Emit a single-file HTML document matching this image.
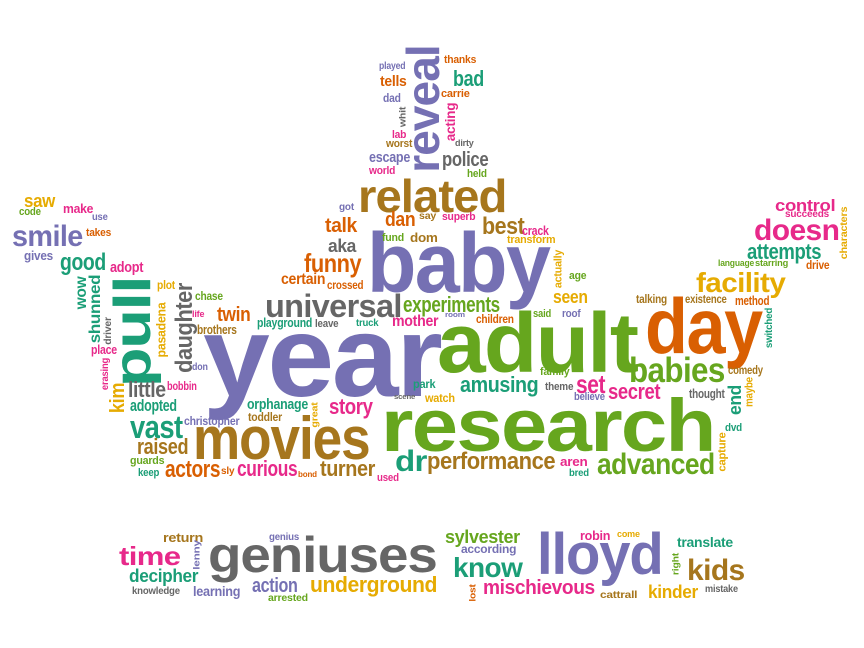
<!DOCTYPE html>
<html><head><meta charset="utf-8">
<style>
html,body{margin:0;padding:0;background:#fff;}
#cloud{position:relative;width:864px;height:648px;overflow:hidden;background:#fff;}
#cloud span{position:absolute;white-space:nowrap;font-family:"Liberation Sans",sans-serif;font-weight:bold;line-height:1;letter-spacing:-0.02em;}
</style></head>
<body>
<div id="cloud">
<span data-g="h,203,397,115,237,P">year</span>
<span data-g="h,437,372,84,200,G">adult</span>
<span data-g="h,645,353,78,117,O">day</span>
<span data-g="h,381,452,74,334,G">research</span>
<span data-g="h,367,292,84,182,P">baby</span>
<span data-g="h,193,460,60,177,B">movies</span>
<span data-g="h,358,212,46,148,B">related</span>
<span data-g="h,208,572,50,229,A">geniuses</span>
<span data-g="h,537,575,58,126,P">lloyd</span>
<span data-g="v,133,332,52,110,T">pull</span>
<span data-g="v,423,109,46,128,P">reveal</span>
<span data-g="h,629,383,35,96,G">babies</span>
<span data-g="h,265,317,32,137,A">universal</span>
<span data-g="h,403,313,22,97,G">experiments</span>
<span data-g="h,12,247,30,71,P">smile</span>
<span data-g="h,24,207,18,31,Y">saw</span>
<span data-g="h,19,216,11,22,G">code</span>
<span data-g="h,63,213,13,30,K">make</span>
<span data-g="h,92,221,10,16,P">use</span>
<span data-g="h,86,237,11,25,O">takes</span>
<span data-g="h,24,260,13,29,P">gives</span>
<span data-g="h,60,271,24,46,T">good</span>
<span data-g="h,110,273,15,33,K">adopt</span>
<span data-g="h,157,289,12,18,Y">plot</span>
<span data-g="h,195,300,12,28,G">chase</span>
<span data-g="h,217,322,20,33,O">twin</span>
<span data-g="h,192,318,9,12,K">life</span>
<span data-g="h,197,334,13,40,B">brothers</span>
<span data-g="h,91,354,13,26,K">place</span>
<span data-g="h,192,371,10,16,P">don</span>
<span data-g="h,167,390,12,30,K">bobbin</span>
<span data-g="h,128,398,22,38,A">little</span>
<span data-g="h,130,411,17,47,T">adopted</span>
<span data-g="h,247,410,15,61,T">orphanage</span>
<span data-g="h,248,421,12,34,B">toddler</span>
<span data-g="h,184,425,12,55,P">christopher</span>
<span data-g="h,329,415,22,44,K">story</span>
<span data-g="h,130,438,32,53,T">vast</span>
<span data-g="h,137,455,22,51,B">raised</span>
<span data-g="h,130,465,11,34,G">guards</span>
<span data-g="h,138,477,11,21,T">keep</span>
<span data-g="h,165,478,24,55,O">actors</span>
<span data-g="h,221,475,10,13,O">sly</span>
<span data-g="h,237,477,22,60,K">curious</span>
<span data-g="h,298,478,8,19,O">bond</span>
<span data-g="h,320,477,22,55,B">turner</span>
<span data-g="h,377,482,11,22,K">used</span>
<span data-g="h,395,472,30,32,T">dr</span>
<span data-g="h,339,211,10,15,P">got</span>
<span data-g="h,325,233,20,32,O">talk</span>
<span data-g="h,385,227,20,30,O">dan</span>
<span data-g="h,419,220,10,17,B">say</span>
<span data-g="h,382,242,11,22,G">fund</span>
<span data-g="h,410,242,13,28,B">dom</span>
<span data-g="h,328,252,18,28,A">aka</span>
<span data-g="h,304,272,26,57,O">funny</span>
<span data-g="h,281,286,16,44,O">certain</span>
<span data-g="h,327,289,12,36,O">crossed</span>
<span data-g="h,257,327,13,55,T">playground</span>
<span data-g="h,315,328,11,23,A">leave</span>
<span data-g="h,356,327,10,22,T">truck</span>
<span data-g="h,392,328,16,46,K">mother</span>
<span data-g="h,413,388,12,22,T">park</span>
<span data-g="h,394,400,7,21,A">scene</span>
<span data-g="h,425,402,12,30,Y">watch</span>
<span data-g="h,442,221,11,33,K">superb</span>
<span data-g="h,482,235,24,42,B">best</span>
<span data-g="h,522,235,13,27,K">crack</span>
<span data-g="h,507,244,11,48,Y">transform</span>
<span data-g="h,569,280,11,17,G">age</span>
<span data-g="h,553,303,18,35,Y">seen</span>
<span data-g="h,445,318,7,20,P">room</span>
<span data-g="h,476,323,12,38,O">children</span>
<span data-g="h,533,318,11,18,G">said</span>
<span data-g="h,562,318,11,19,P">roof</span>
<span data-g="h,636,303,12,31,B">talking</span>
<span data-g="h,685,303,12,42,B">existence</span>
<span data-g="h,735,305,13,34,O">method</span>
<span data-g="h,696,293,28,89,Y">facility</span>
<span data-g="h,775,211,17,60,K">control</span>
<span data-g="h,785,218,10,44,K">succeeds</span>
<span data-g="h,754,241,30,85,K">doesn</span>
<span data-g="h,747,260,22,74,T">attempts</span>
<span data-g="h,718,267,9,36,G">language</span>
<span data-g="h,755,267,9,33,G">starring</span>
<span data-g="h,806,269,12,23,O">drive</span>
<span data-g="h,540,376,11,29,G">family</span>
<span data-g="h,460,393,22,78,T">amusing</span>
<span data-g="h,545,391,11,28,A">theme</span>
<span data-g="h,576,393,26,29,K">set</span>
<span data-g="h,574,401,11,31,P">believe</span>
<span data-g="h,608,400,22,52,K">secret</span>
<span data-g="h,728,374,12,35,B">comedy</span>
<span data-g="h,689,398,13,36,A">thought</span>
<span data-g="h,725,432,11,17,T">dvd</span>
<span data-g="h,427,470,24,128,B">performance</span>
<span data-g="h,560,466,13,27,K">aren</span>
<span data-g="h,569,477,10,20,T">bred</span>
<span data-g="h,597,475,30,118,G">advanced</span>
<span data-g="h,379,70,10,26,P">played</span>
<span data-g="h,444,64,11,32,O">thanks</span>
<span data-g="h,380,87,15,27,O">tells</span>
<span data-g="h,453,87,22,31,T">bad</span>
<span data-g="h,383,102,12,18,P">dad</span>
<span data-g="h,441,98,11,29,O">carrie</span>
<span data-g="h,392,139,11,14,K">lab</span>
<span data-g="h,386,148,11,26,B">worst</span>
<span data-g="h,455,147,9,19,A">dirty</span>
<span data-g="h,369,163,15,41,P">escape</span>
<span data-g="h,442,167,20,46,A">police</span>
<span data-g="h,369,175,11,26,K">world</span>
<span data-g="h,467,178,11,20,G">held</span>
<span data-g="v,450,122,14,39,K">acting</span>
<span data-g="v,403,117,9,20,A">whit</span>
<span data-g="v,82,293,16,33,T">wow</span>
<span data-g="v,96,309,16,68,T">shunned</span>
<span data-g="v,109,331,10,28,A">driver</span>
<span data-g="v,106,374,10,32,K">erasing</span>
<span data-g="v,118,398,20,30,Y">kim</span>
<span data-g="v,161,330,13,55,Y">pasadena</span>
<span data-g="v,185,328,24,90,A">daughter</span>
<span data-g="v,315,415,9,25,Y">great</span>
<span data-g="v,845,233,10,53,Y">characters</span>
<span data-g="v,770,328,10,40,T">switched</span>
<span data-g="v,559,269,11,38,Y">actually</span>
<span data-g="v,735,400,18,30,T">end</span>
<span data-g="v,750,392,11,30,Y">maybe</span>
<span data-g="v,723,452,11,39,Y">capture</span>
<span data-g="h,163,542,13,40,B">return</span>
<span data-g="v,197,555,9,30,P">lenny</span>
<span data-g="h,269,541,10,30,P">genius</span>
<span data-g="h,119,565,26,61,K">time</span>
<span data-g="h,129,582,18,69,T">decipher</span>
<span data-g="h,132,595,10,48,A">knowledge</span>
<span data-g="h,193,596,14,47,P">learning</span>
<span data-g="h,252,593,20,46,P">action</span>
<span data-g="h,268,602,10,40,G">arrested</span>
<span data-g="h,310,593,22,127,Y">underground</span>
<span data-g="h,445,543,18,75,G">sylvester</span>
<span data-g="h,461,553,12,55,P">according</span>
<span data-g="h,453,578,28,69,T">know</span>
<span data-g="v,473,593,9,17,O">lost</span>
<span data-g="h,483,595,20,112,K">mischievous</span>
<span data-g="h,600,599,10,37,B">cattrall</span>
<span data-g="h,580,540,13,30,K">robin</span>
<span data-g="h,617,538,9,23,Y">come</span>
<span data-g="v,676,564,9,22,G">right</span>
<span data-g="h,677,547,14,56,T">translate</span>
<span data-g="h,687,581,30,58,B">kids</span>
<span data-g="h,648,598,18,50,Y">kinder</span>
<span data-g="h,705,593,10,33,A">mistake</span>
</div>
<script>
const palette = {P:"#7570b3",G:"#66a61e",O:"#d95f02",B:"#a6761d",T:"#1b9e77",K:"#e7298a",Y:"#e6ab02",A:"#666666"};
document.querySelectorAll('#cloud span').forEach(function(el){
  const g = el.getAttribute('data-g').split(',');
  const kind = g[0], a = +g[1], b = +g[2], fs = +g[3], w = +g[4];
  el.style.fontSize = fs + 'px';
  el.style.color = palette[g[5]];
  const nat = el.offsetWidth || 1;
  const s = w / nat;
  if (kind === 'h') {
    el.style.left = a + 'px';
    el.style.top = (b - 0.847 * fs) + 'px';
    el.style.transformOrigin = '0 0';
    el.style.transform = 'scaleX(' + s + ')';
  } else {
    el.style.left = a + 'px';
    el.style.top = b + 'px';
    el.style.transformOrigin = '50% 50%';
    el.style.transform = 'translate(-50%,-50%) rotate(-90deg) scaleX(' + s + ')';
  }
});
</script>
</body></html>
